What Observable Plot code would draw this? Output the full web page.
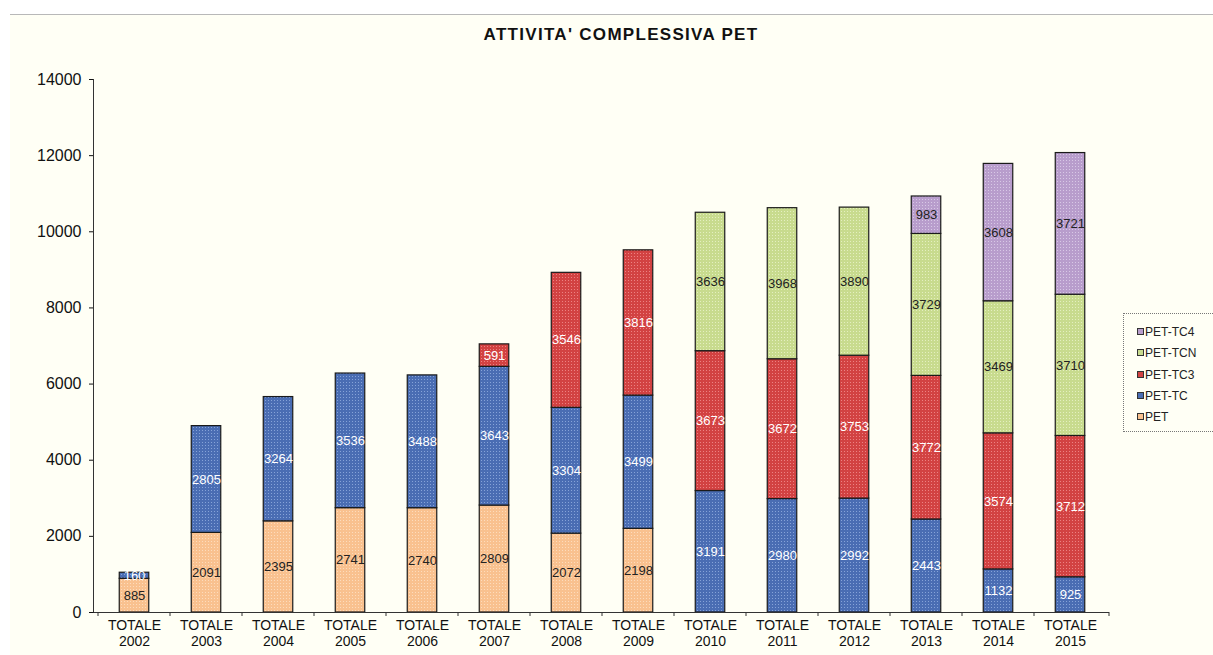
<!DOCTYPE html>
<html><head><meta charset="utf-8">
<script src="https://cdn.jsdelivr.net/npm/d3@7"></script>
<script src="https://cdn.jsdelivr.net/npm/@observablehq/plot@0.6"></script>
<style>
body{margin:0;background:#fff;font-family:"Liberation Sans",Arial,sans-serif;}
#page{position:relative;width:1213px;height:655px;overflow:hidden;}
#bg{position:absolute;left:10px;top:14px;right:0;bottom:0;background:#fffff5;border-top:1px solid #b8b8b8;}
#title{position:absolute;left:0;width:1242px;top:25px;text-align:center;font-weight:bold;font-size:17px;letter-spacing:1.3px;color:#111;}
#chart{position:absolute;left:0;top:0;}
#legend{position:absolute;left:1123px;top:313px;width:110px;height:119px;border:1px dotted #777;box-sizing:border-box;}
.li{position:absolute;left:13px;font-size:12px;color:#222;line-height:13px;white-space:nowrap;}
.sw{display:inline-block;width:5px;height:5px;border:1px solid #333;margin-right:1px;vertical-align:1px;}
</style></head>
<body>
<div id="page">
  <div id="bg"></div>
  <div id="title">ATTIVITA' COMPLESSIVA PET</div>
  <div id="chart"></div>
  <div id="legend"></div>
</div>
<script>
const years = ["2002","2003","2004","2005","2006","2007","2008","2009","2010","2011","2012","2013","2014","2015"];
const series = ["PET","PET-TC","PET-TC3","PET-TCN","PET-TC4"];
const pet    = [885,2091,2395,2741,2740,2809,2072,2198,null,null,null,null,null,null];
const petTc  = [160,2805,3264,3536,3488,3643,3304,3499,3191,2980,2992,2443,1132,925];
const petTc3 = [null,null,null,null,null,591,3546,3816,3673,3672,3753,3772,3574,3712];
const petTcn = [null,null,null,null,null,null,null,null,3636,3968,3890,3729,3469,3710];
const petTc4 = [null,null,null,null,null,null,null,null,null,null,null,983,3608,3721];
const yTicks = [0,2000,4000,6000,8000,10000,12000,14000];

const colors = ["#f9c18f","#4a6db3","#d24242","#c8db8e","#b89dcc"];
const dots   = ["#fddcbc","#86a3d8","#ec8282","#e4efc0","#d8c8e6"];
const labelColors = ["#222","#fff","#fff","#222","#222"];

const valuesBySeries = [pet, petTc, petTc3, petTcn, petTc4];
const data = [];
years.forEach((y, j) => {
  series.forEach((s, i) => {
    const v = valuesBySeries[i][j];
    if (v != null) data.push({year: y, series: s, si: i, value: v});
  });
});

const defsMark = () => {
  const defs = d3.create("svg:defs");
  colors.forEach((c, i) => {
    const p = defs.append("pattern").attr("id", "pat" + i)
      .attr("width", 3).attr("height", 3).attr("patternUnits", "userSpaceOnUse");
    p.append("rect").attr("width", 3).attr("height", 3).attr("fill", c);
    p.append("rect").attr("x", 1).attr("y", 1).attr("width", 1).attr("height", 1).attr("fill", dots[i]);
  });
  return defs.node();
};

const axisLines = (index, scales, values, dim) => {
  const g = d3.create("svg:g").attr("stroke", "#333").attr("stroke-width", 1).attr("fill", "none");
  const x0 = dim.marginLeft, x1 = dim.width - dim.marginRight;
  const yb = dim.height - dim.marginBottom, yt = dim.marginTop;
  g.append("line").attr("x1", x0 - 0.5).attr("x2", x0 - 0.5).attr("y1", yt).attr("y2", yb);
  g.append("line").attr("x1", x0 - 0.5).attr("x2", x1).attr("y1", yb + 0.5).attr("y2", yb + 0.5);
  const edges = years.map(y => scales.x(y)).concat([x1]);
  edges.forEach(e => g.append("line").attr("x1", e).attr("x2", e).attr("y1", yb).attr("y2", yb + 4));
  return g.node();
};

const labelMarks = [0, 1].map(k => Plot.text(data, Plot.stackY({
  x: "year", y: "value",
  text: d => ((labelColors[d.si] === "#fff") === (k === 1)) ? String(d.value) : "",
  fill: k === 1 ? "#fff" : "#222",
  fontSize: 13
})));

const chart = Plot.plot({
  width: 1213, height: 655,
  marginLeft: 94, marginRight: 104, marginTop: 79, marginBottom: 43,
  style: {background: "transparent", fontFamily: "Liberation Sans, Arial, sans-serif", color: "#111"},
  x: {type: "band", domain: years, padding: 0, label: null},
  y: {domain: [0, 14000], label: null},
  color: {domain: series, range: series.map((s, i) => `url(#pat${i})`)},
  marks: [
    defsMark,
    Plot.barY(data, {x: "year", y: "value", fill: "series", stroke: "#1a1a1a", strokeWidth: 1.2, insetLeft: 21.25, insetRight: 21.25}),
    ...labelMarks,
    Plot.axisY({ticks: yTicks, tickSize: 5, tickPadding: 8, tickFormat: d3.format("d"), fontSize: 16, label: null}),
    Plot.axisX({tickSize: 0, tickPadding: 7, tickFormat: d => "TOTALE\n" + d, fontSize: 14, lineHeight: 1.1, label: null}),
    axisLines
  ]
});
document.getElementById("chart").appendChild(chart);

const legend = document.getElementById("legend");
const order = [4, 3, 2, 1, 0];
order.forEach((i, k) => {
  const el = document.createElement("div");
  el.className = "li";
  el.style.top = (12 + k * 21.3) + "px";
  el.innerHTML = `<span class="sw" style="background:${colors[i]}"></span>${series[i]}`;
  legend.appendChild(el);
});
</script>
</body></html>
